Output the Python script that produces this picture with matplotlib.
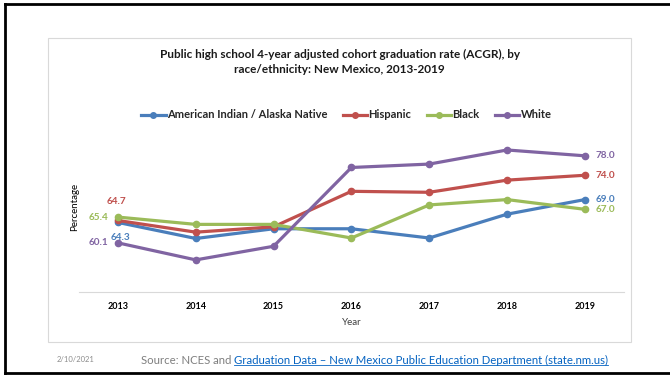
import matplotlib.pyplot as plt
from matplotlib.lines import Line2D
from matplotlib.patches import Rectangle

# data
years = ["2013", "2014", "2015", "2016", "2017", "2018", "2019"]
am_indian = [64.3, 61.0, 63.0, 63.0, 61.1, 66.0, 69.0]
hispanic = [64.7, 62.3, 63.4, 70.7, 70.5, 73.0, 74.0]
black = [65.4, 63.9, 63.9, 61.1, 67.9, 69.0, 67.0]
white = [60.1, 56.6, 59.4, 75.6, 76.3, 79.2, 78.0]

names = ["American Indian / Alaska Native", "Hispanic", "Black", "White"]
colors = ["#4A7EBB", "#C0504D", "#9BBB59", "#8064A2"]
series = [am_indian, hispanic, black, white]

plt.rcParams["font.family"] = ["Lato", "DejaVu Sans"]

fig = plt.figure(figsize=(6.7, 3.77), dpi=100)
ax = fig.add_axes([0.118, 0.2255, 0.813, 0.4515])

x = list(range(len(years)))
for vals, c, n in zip(series, colors, names):
    ax.plot(x, vals, color=c, lw=2.3, marker="o", ms=4.5, label=n)

ax.set_xlim(-0.5, len(years) - 0.5)
ax.set_ylim(50, 85)
ax.set_yticks([])
ax.set_xticks(x)
ax.set_xticklabels(years, fontsize=6.5, fontweight="bold")
ax.tick_params(axis="x", length=0, pad=7)
for s in ["top", "right", "left"]:
    ax.spines[s].set_visible(False)
ax.spines["bottom"].set_color("#D9D9D9")
ax.set_xlabel("Year", fontsize=7, color="#404040", labelpad=5)
ax.set_ylabel("Percentage", fontsize=7, color="#000000", labelpad=0)

# value labels at first and last year
lab_kw = dict(fontsize=7.2, fontweight="bold", va="center")
ax.annotate(f"{hispanic[0]:.1f}", (0, hispanic[0]), xytext=(-8, 14),
            textcoords="offset points", color=colors[1], ha="left", **lab_kw)
ax.annotate(f"{black[0]:.1f}", (0, black[0]), xytext=(-7, 0),
            textcoords="offset points", color=colors[2], ha="right", **lab_kw)
ax.annotate(f"{am_indian[0]:.1f}", (0, am_indian[0]), xytext=(-5, -11),
            textcoords="offset points", color=colors[0], ha="left", **lab_kw)
ax.annotate(f"{white[0]:.1f}", (0, white[0]), xytext=(-7, 0),
            textcoords="offset points", color=colors[3], ha="right", **lab_kw)
for vals, c in zip(series, colors):
    ax.annotate(f"{vals[-1]:.1f}", (x[-1], vals[-1]), xytext=(8, 0),
                textcoords="offset points", color=c, ha="left", **lab_kw)

fig.text(0.507, 0.835, "Public high school 4-year adjusted cohort graduation rate (ACGR), by\n"
         "race/ethnicity: New Mexico, 2013-2019", ha="center", va="center",
         fontsize=8.5, fontweight="bold", color="#1a1a1a", linespacing=1.5)

handles = [Line2D([], [], color=c, lw=2.3, marker="o", ms=4) for c in colors]
leg = fig.legend(handles, names, loc="center", bbox_to_anchor=(0.517, 0.695), ncol=4,
                 frameon=False, handlelength=2.2, handletextpad=0.1, columnspacing=1.4,
                 prop={"size": 8, "weight": "bold"})
for t in leg.get_texts():
    t.set_color("#262626")

# chart box and slide frame
fig.patches.append(Rectangle((48 / 670, 1 - 342 / 377), 583 / 670, 304 / 377,
                             transform=fig.transFigure, fill=False, ec="#D9D9D9", lw=0.8))
fig.add_artist(Line2D([5 / 670, 5 / 670], [4 / 377, 1 - 4 / 377], transform=fig.transFigure,
                      color="black", lw=2))
fig.add_artist(Line2D([5 / 670, 1], [1 - 4 / 377, 1 - 4 / 377], transform=fig.transFigure,
                      color="black", lw=2))
fig.add_artist(Line2D([5 / 670, 1], [4 / 377, 4 / 377], transform=fig.transFigure,
                      color="black", lw=2))

# footer
fig.text(57 / 670, 1 - 360 / 377, "2/10/2021", fontsize=5.5, color="#8C8C8C", va="center")
src = fig.text(141 / 670, 1 - 360 / 377, "Source: NCES and ", fontsize=8.2,
               color="#7F7F7F", va="center")
fig.canvas.draw()
r = fig.canvas.get_renderer()
bb = src.get_window_extent(r).transformed(fig.transFigure.inverted())
link = fig.text(bb.x1, 1 - 360 / 377,
                "Graduation Data \u2013 New Mexico Public Education Department (state.nm.us)",
                fontsize=8.2, color="#0563C1", va="center")
bl = link.get_window_extent(r).transformed(fig.transFigure.inverted())
fig.add_artist(Line2D([bl.x0, bl.x1], [bl.y0 + 0.002, bl.y0 + 0.002],
                      transform=fig.transFigure, color="#0563C1", lw=0.6))

fig.savefig("out.png", dpi=100)
